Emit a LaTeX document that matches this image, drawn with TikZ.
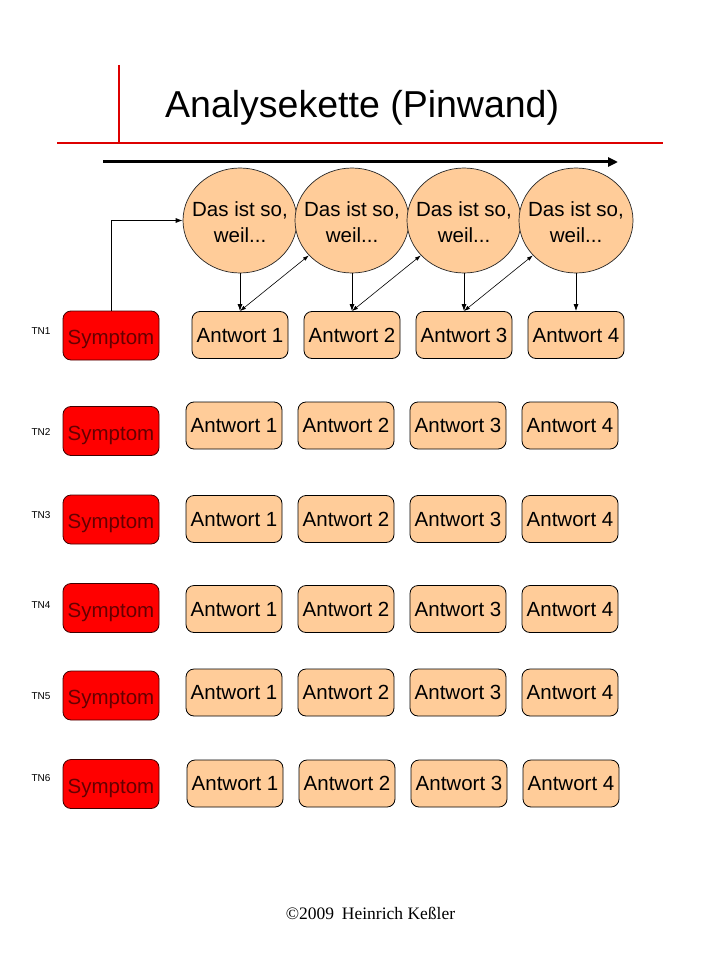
\documentclass[tikz,border=0pt]{standalone}
\usepackage{fontspec}
\setmainfont{Liberation Sans}
\newfontfamily\crserif{Liberation Serif}
\usetikzlibrary{shapes.geometric,arrows.meta}
\definecolor{peach}{HTML}{FFCC99}
\definecolor{redline}{HTML}{DD0000}
\definecolor{symred}{HTML}{FF0000}
\definecolor{symtext}{HTML}{660000}
\definecolor{symborder}{HTML}{400000}
\begin{document}
\begin{tikzpicture}[x=1pt,y=-1pt,
  boxfont/.style={font=\fontsize{20.5}{24}\selectfont},
  ans/.style={boxfont, draw=black, fill=peach, rounded corners=8pt, minimum width=96pt, minimum height=47pt, inner sep=0pt, line width=0.8pt, text height=14.7pt, text depth=0pt},
  sym/.style={boxfont, draw=symborder, fill=symred, text=symtext, rounded corners=8pt, minimum width=96pt, minimum height=49pt, inner sep=0pt, line width=0.8pt, text height=18.7pt, text depth=0pt},
  why/.style={ellipse, draw=black!85, fill=peach, minimum width=114pt, minimum height=105pt, inner sep=0pt, line width=0.7pt},
  whytext/.style={align=center, inner sep=0pt, font=\fontsize{20.5}{26}\selectfont},
  tn/.style={font=\fontsize{10}{11}\selectfont, inner sep=0pt},
  conn/.style={line width=0.8pt, -{Latex[length=7pt,width=5pt]}},
  diag/.style={line width=0.6pt, {Latex[length=6pt,width=4pt]}-{Latex[length=6pt,width=4pt]}},
  redrule/.style={draw=redline, line width=2.6pt}]
\useasboundingbox[fill=white] (0,0) rectangle (720,960);

% title and rules
\coordinate (vt) at (119,65);
\coordinate (vb) at (119,143);
\coordinate (hl) at (57,143);
\coordinate (hr) at (663,143);
\draw[redrule] (vt) -- (vb);
\draw[redrule] (hl) -- (hr);
\node[anchor=base west, inner sep=0pt, font=\fontsize{37.5}{40}\selectfont] (title) at (165,118) {Analysekette (Pinwand)};

% time arrow
\coordinate (tl) at (103,162);
\coordinate (tr) at (618,162);
\draw[line width=3pt, -{Triangle[length=10pt,width=9pt]}] (tl) -- (tr);

% circles
\foreach \i/\x in {1/240,2/352,3/464,4/576}
  \node[why] (c\i) at (\x,220.5) {};
\foreach \i in {1,2,3,4}
  \node[whytext] (ct\i) at ([yshift=-1.5pt]c\i.center) {Das ist so,\\weil...};

% row 1
\node[sym] (s1) at (111,335.5) {Symptom};
\node[tn] (tn1) at (41,331) {TN1};
\foreach \i/\x in {1/240,2/352,3/464,4/576}
  \node[ans] (a1\i) at (\x,335) {Antwort \i};

% other rows
\foreach \r/\ay/\ax/\sy/\ty in {2/425.5/234/431/432, 3/519/234/519.5/515, 4/609/234/608/605, 5/692.5/234/695.5/696, 6/783.5/235/784/778}{
  \node[sym] (s\r) at (111,\sy) {Symptom};
  \node[tn] (tn\r) at (41,\ty) {TN\r};
  \foreach \i in {1,2,3,4}
    \node[ans] (a\r\i) at ({\ax+112*(\i-1)},\ay) {Antwort \i};
}

% connectors
\draw[conn] (s1.north) |- (c1.west);
\foreach \i in {1,2,3,4}
  \draw[conn] (c\i.south) -- (a1\i.north);
\foreach \i/\j in {1/2,2/3,3/4}
  \draw[diag] (a1\i.north) -- (c\j);

% footer
\node[anchor=base, inner sep=0pt, font=\crserif\fontsize{17.5}{20}\selectfont] (copy) at (370.5,919) {©2009\hspace{0.45em}Heinrich Keßler};
\end{tikzpicture}
\end{document}
